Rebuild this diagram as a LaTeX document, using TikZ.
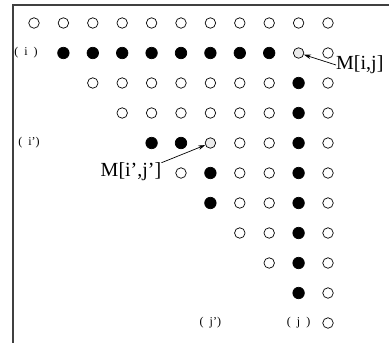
\documentclass[tikz,border=0pt]{standalone}
\usepackage{fontspec}
\setmainfont{Liberation Serif}
\usetikzlibrary{arrows.meta}

\begin{document}
\begin{tikzpicture}[x=1pt,y=-1pt,>={Stealth[length=7pt,width=4.5pt]},
  cell/.style={circle,draw,line width=0.7pt,minimum size=10.5pt,inner sep=0pt},
  full/.style={cell,fill=black,minimum size=11.5pt},
  target/.style={cell,fill=black!8},
  idx/.style={font=\fontsize{12}{14}\selectfont,inner sep=0pt},
  lbl/.style={font=\fontsize{20}{24}\selectfont,inner sep=0pt}]
  \useasboundingbox (0,0) rectangle (389,343);
  % Frame
  \draw[line width=1.3pt,black!75] (389,5) -- (13,5) -- (13,343);
  % Upper triangle of the table
  \foreach \r in {0,...,10}
    \foreach \c in {\r,...,10} {
      \pgfmathtruncatemacro\f{(\r==1 && \c==9) || (\r==4 && \c==6) ? 2 :
        ((\r==1 && \c<9) || (\c==9 && \r>1 && \r<10) || (\r==4 && \c<6) || (\c==6 && \r>4 && \r<7) ? 1 : 0)}
      \edef\sty{\ifcase\f cell\or full\or target\fi}
      \node[\sty] (m-\r-\c) at ({34+29.4*\c},{23+30*\r}) {};
    }
  % Row and column indices
  \node[idx] (ri) at (26,53) {(\enspace i\enspace)};
  \node[idx] (rii) at (29,143) {(\enspace i')};
  \node[idx] (cjj) at ({34+29.4*6},323) {(\enspace j')};
  \node[idx] (cj) at ({34+29.4*9},323) {(\enspace j\enspace)};
  % Entries
  \node[lbl,anchor=west] (mij) at (336,65) {M[i,j]};
  \node[lbl] (miijj) at (131,172) {M[i',j']};
  \draw[->,line width=0.7pt] (mij.west) -- (m-1-9);
  \draw[->,line width=0.7pt] (miijj.north east) -- (m-4-6);
\end{tikzpicture}
\end{document}
